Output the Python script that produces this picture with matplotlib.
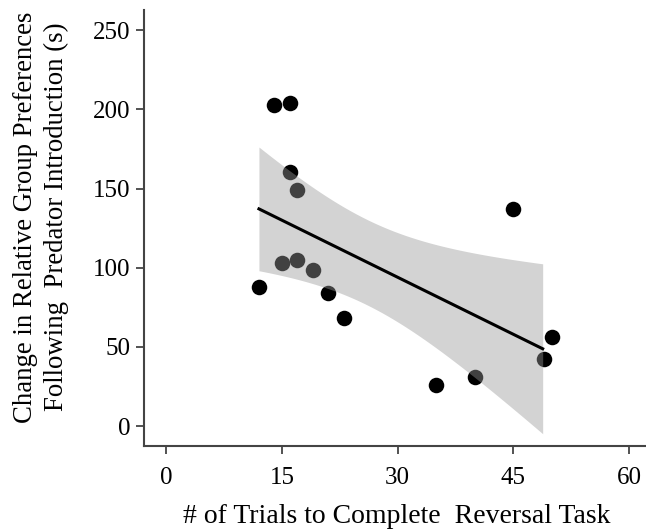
import numpy as np
import matplotlib
matplotlib.use("Agg")
import matplotlib.pyplot as plt

plt.rcParams['font.family'] = ['Liberation Serif', 'DejaVu Serif']

# trials to complete reversal task vs change in group preference (s)
trials = [14, 16, 16, 17, 15, 17, 19, 12, 21, 23, 45, 50, 49, 40, 35]
pref_change = [203, 204, 160.5, 149, 103, 105, 98.5, 88, 84, 68.4, 137, 56, 42.3, 31, 26]

x_ticks = [0, 15, 30, 45, 60]
y_ticks = [0, 50, 100, 150, 200, 250]

x = np.array(trials, dtype=float)
y = np.array(pref_change, dtype=float)

# linear fit with 95% confidence band (like geom_smooth(method="lm"))
slope, intercept = np.polyfit(x, y, 1)
n = len(x)
resid = y - (slope * x + intercept)
s = np.sqrt(np.sum(resid ** 2) / (n - 2))
t_crit = 2.160  # t(0.975, df=13)
xs = np.linspace(x.min(), x.max() - 1.2, 100)
ys = slope * xs + intercept
se = s * np.sqrt(1 / n + (xs - x.mean()) ** 2 / np.sum((x - x.mean()) ** 2))

fig = plt.figure(figsize=(6.46, 5.32), dpi=100)
ax = fig.add_axes([0.223, 0.162, 0.777, 0.819])

ax.scatter(x, y, s=125, color='black', zorder=2, linewidths=0)
ax.fill_between(xs, ys - t_crit * se, ys + t_crit * se, color=(0.6, 0.6, 0.6), alpha=0.43,
                linewidth=0, zorder=3)
ax.plot(xs, ys, color='black', linewidth=2.2, zorder=4)

ax.set_xlim(-2.9, 62.2)
ax.set_ylim(-12.4, 262.6)
ax.set_xticks(x_ticks)
ax.set_yticks(y_ticks)
ax.tick_params(labelsize=18, direction='out', length=6, width=1.3, color='#444444')
ax.tick_params(axis='x', pad=9)
ax.tick_params(axis='y', pad=4)

for side in ['top', 'right']:
    ax.spines[side].set_visible(False)
for side in ['left', 'bottom']:
    ax.spines[side].set_color('#444444')
    ax.spines[side].set_linewidth(1.5)

fig.text(0.614, 0.03, '# of Trials to Complete  Reversal Task', fontsize=20, ha='center', va='center')
fig.text(0.064, 0.592, 'Change in Relative Group Preferences\nFollowing  Predator Introduction (s)',
         fontsize=19.3, ha='center', va='center', rotation=90, linespacing=1.3)

fig.savefig('out.png', dpi=100)
